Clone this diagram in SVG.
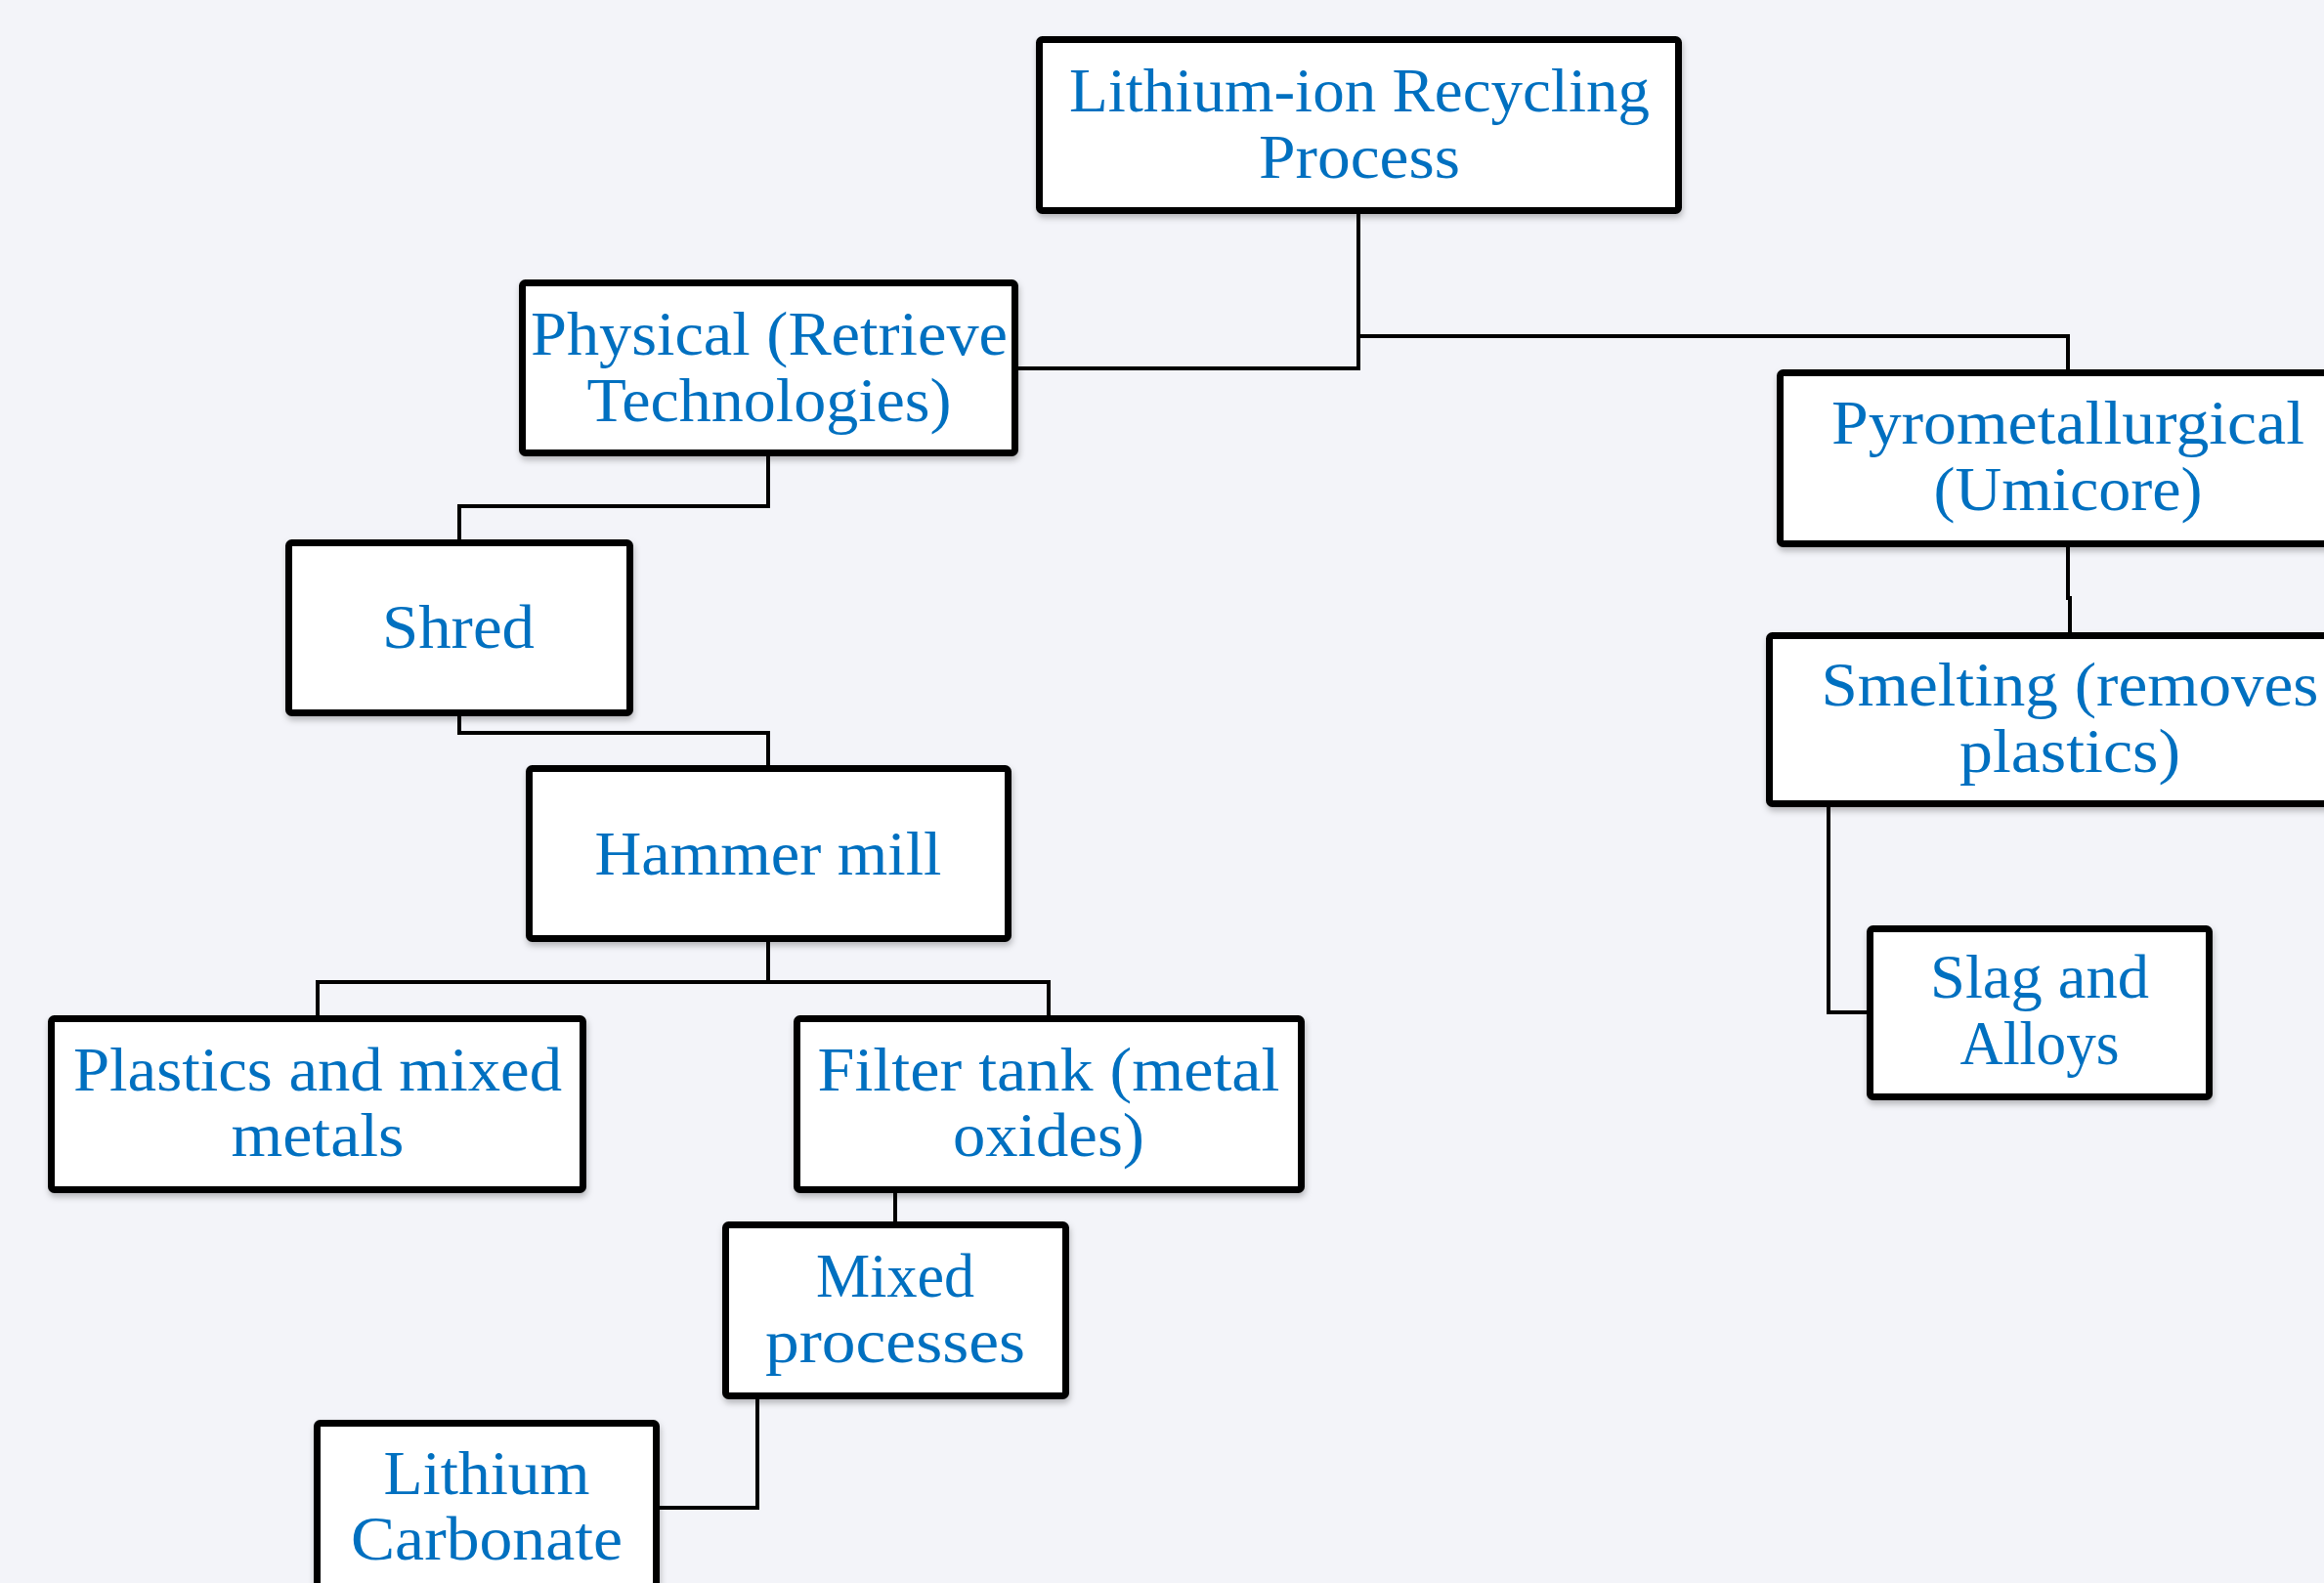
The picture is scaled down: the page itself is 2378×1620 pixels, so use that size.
<svg xmlns="http://www.w3.org/2000/svg" width="2378" height="1620" viewBox="0 0 2378 1620">
<style>
.bg{fill:#F3F4F9}
.box{fill:#FFFFFF;stroke:#000000;stroke-width:7;filter:url(#sh)}
.conn{fill:none;stroke:#000000;stroke-width:4;stroke-linejoin:miter}
.t{font-family:"Liberation Serif","Times New Roman",serif;font-size:64px;fill:#0070C0;text-anchor:middle}
</style>
<defs>
<filter id="sh" x="-10%" y="-10%" width="120%" height="130%">
<feDropShadow dx="1" dy="4" stdDeviation="3" flood-color="#000" flood-opacity="0.25"/>
</filter>
</defs>
<rect class="bg" x="0" y="0" width="2378" height="1620"/>
<g id="connectors">
<path class="conn" d="M1390,219 V377 H1042"/>
<path class="conn" d="M1390,344 H2116 V378"/>
<path class="conn" d="M786,467 V518 H470 V552"/>
<path class="conn" d="M470,733 V750 H786 V783"/>
<path class="conn" d="M786,964 V1005 H325 V1039"/>
<path class="conn" d="M786,1005 H1073 V1039"/>
<path class="conn" d="M916,1221 V1250"/>
<path class="conn" d="M775,1432 V1543 H675"/>
<path class="conn" d="M2116,560 V612 H2118 V647"/>
<path class="conn" d="M1871,826 V1036 H1910"/>
</g>
<g id="n-root">
<rect class="box" x="1063.5" y="40.5" width="654" height="175" rx="3"/>
<text class="t" x="1391" y="114" textLength="594" lengthAdjust="spacingAndGlyphs">Lithium-ion Recycling</text>
<text class="t" x="1391" y="182" textLength="206" lengthAdjust="spacingAndGlyphs">Process</text>
</g>
<g id="n-physical">
<rect class="box" x="534.5" y="289.5" width="504" height="174" rx="3"/>
<text class="t" x="787" y="363" textLength="488" lengthAdjust="spacingAndGlyphs">Physical (Retrieve</text>
<text class="t" x="787" y="431" textLength="373" lengthAdjust="spacingAndGlyphs">Technologies)</text>
</g>
<g id="n-shred">
<rect class="box" x="295.5" y="555.5" width="349" height="174" rx="3"/>
<text class="t" x="469" y="663" textLength="156" lengthAdjust="spacingAndGlyphs">Shred</text>
</g>
<g id="n-hammer">
<rect class="box" x="541.5" y="786.5" width="490" height="174" rx="3"/>
<text class="t" x="786" y="895" textLength="355" lengthAdjust="spacingAndGlyphs">Hammer mill</text>
</g>
<g id="n-plastics">
<rect class="box" x="52.5" y="1042.5" width="544" height="175" rx="3"/>
<text class="t" x="325" y="1115.5" textLength="500" lengthAdjust="spacingAndGlyphs">Plastics and mixed</text>
<text class="t" x="325" y="1183" textLength="177" lengthAdjust="spacingAndGlyphs">metals</text>
</g>
<g id="n-filter">
<rect class="box" x="815.5" y="1042.5" width="516" height="175" rx="3"/>
<text class="t" x="1073" y="1115.5" textLength="473" lengthAdjust="spacingAndGlyphs">Filter tank (metal</text>
<text class="t" x="1073" y="1183" textLength="196" lengthAdjust="spacingAndGlyphs">oxides)</text>
</g>
<g id="n-mixed">
<rect class="box" x="742.5" y="1253.5" width="348" height="175" rx="3"/>
<text class="t" x="916" y="1327" textLength="162" lengthAdjust="spacingAndGlyphs">Mixed</text>
<text class="t" x="916" y="1394" textLength="266" lengthAdjust="spacingAndGlyphs">processes</text>
</g>
<g id="n-carbonate">
<rect class="box" x="324.5" y="1456.5" width="347" height="175" rx="3"/>
<text class="t" x="498" y="1529" textLength="211" lengthAdjust="spacingAndGlyphs">Lithium</text>
<text class="t" x="498" y="1595.5" textLength="278" lengthAdjust="spacingAndGlyphs">Carbonate</text>
</g>
<g id="n-pyro">
<rect class="box" x="1821.5" y="381.5" width="596" height="175" rx="3"/>
<text class="t" x="2116" y="454" textLength="484" lengthAdjust="spacingAndGlyphs">Pyrometallurgical</text>
<text class="t" x="2116" y="522" textLength="275" lengthAdjust="spacingAndGlyphs">(Umicore)</text>
</g>
<g id="n-smelting">
<rect class="box" x="1810.5" y="650.5" width="620" height="172" rx="3"/>
<text class="t" x="2118" y="722" textLength="509" lengthAdjust="spacingAndGlyphs">Smelting (removes</text>
<text class="t" x="2118" y="790" textLength="226" lengthAdjust="spacingAndGlyphs">plastics)</text>
</g>
<g id="n-slag">
<rect class="box" x="1913.5" y="950.5" width="347" height="172" rx="3"/>
<text class="t" x="2087" y="1021" textLength="224" lengthAdjust="spacingAndGlyphs">Slag and</text>
<text class="t" x="2087" y="1089" textLength="163" lengthAdjust="spacingAndGlyphs">Alloys</text>
</g>
</svg>
